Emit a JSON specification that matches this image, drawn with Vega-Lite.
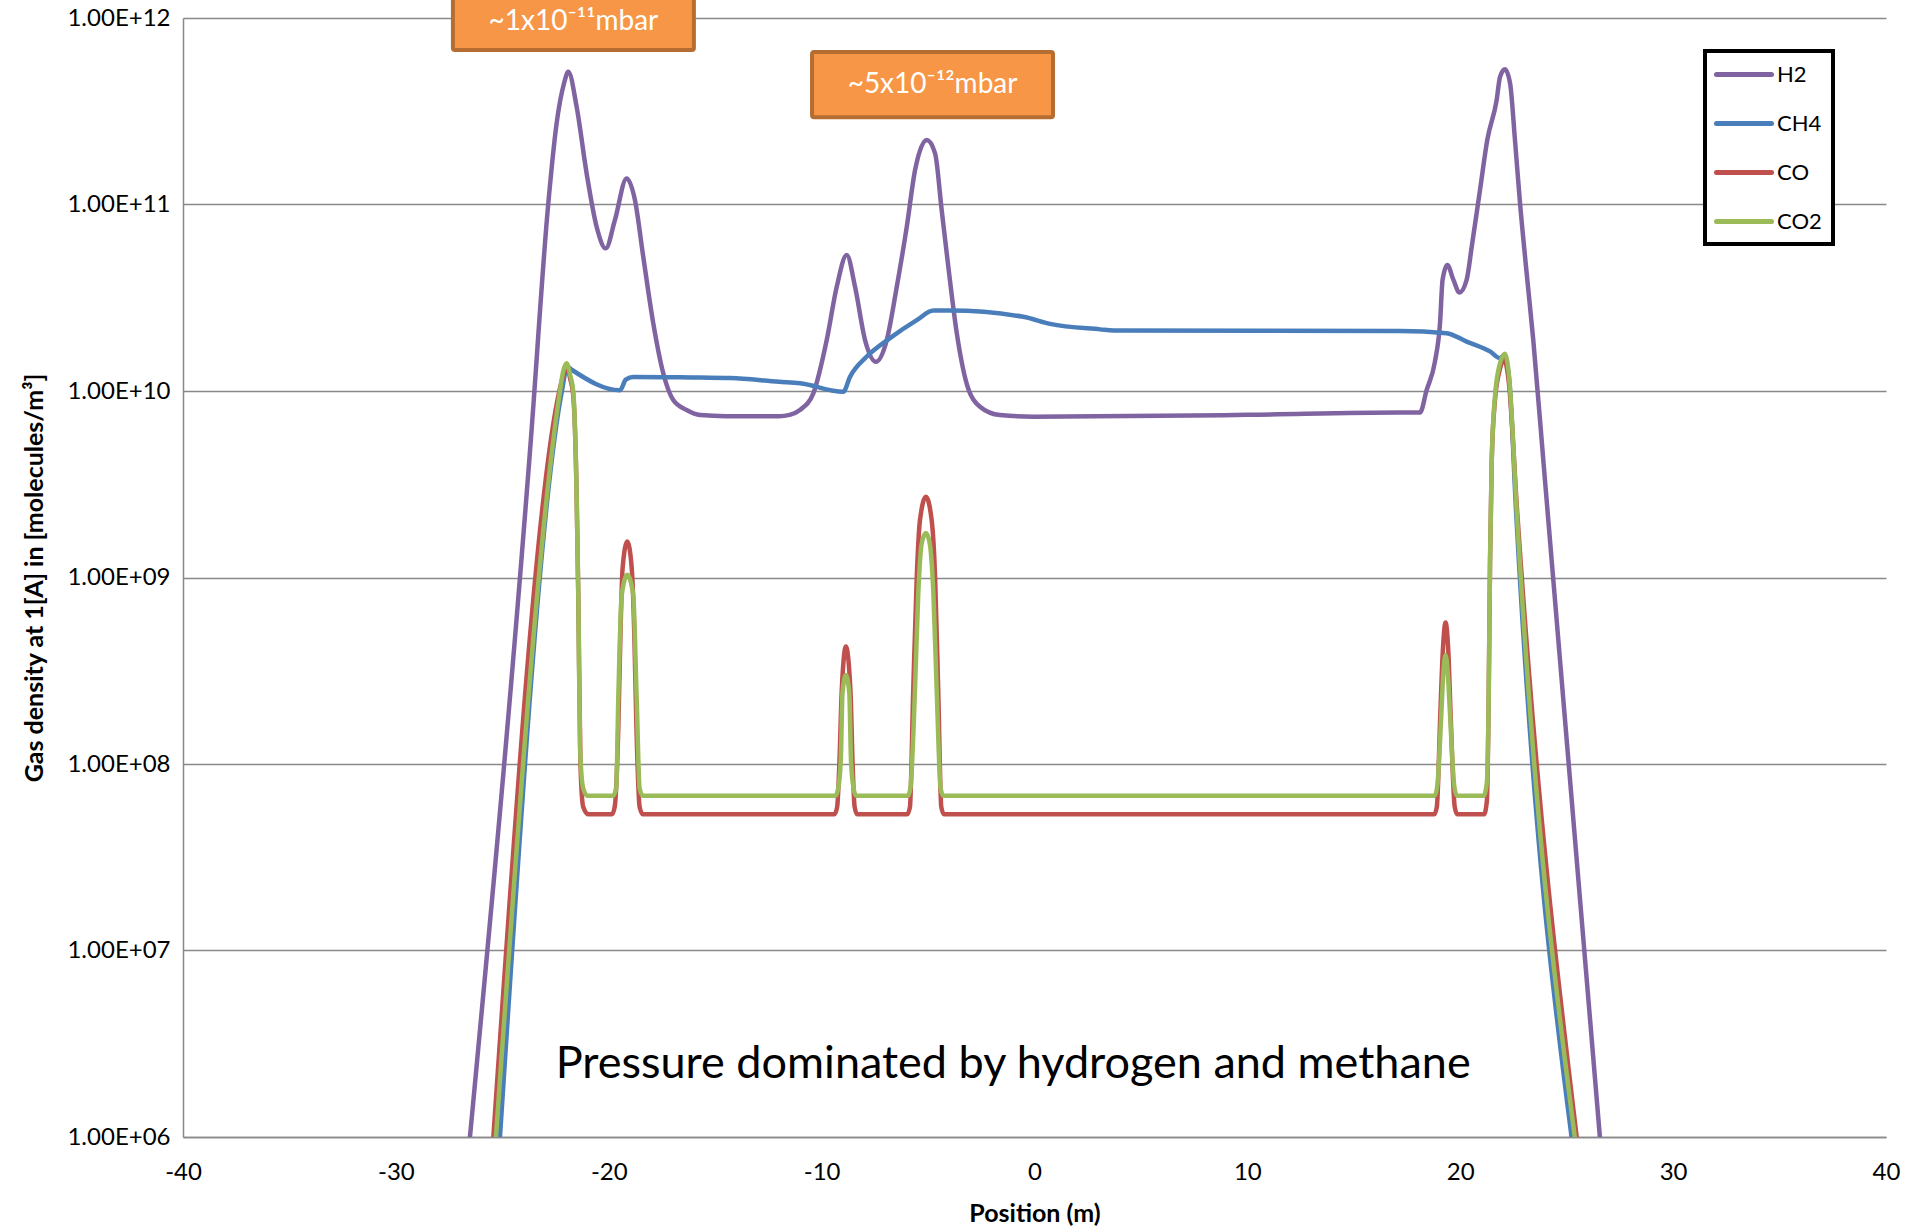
{
  "$schema": "https://vega.github.io/schema/vega-lite/v6.json",
  "width": 1703,
  "height": 1119,
  "autosize": {"type": "none"},
  "padding": {"left": 183, "top": 18, "right": 21, "bottom": 91},
  "background": "white",
  "config": {
    "view": {"stroke": null},
    "font": "Lato",
    "axis": {
      "labelFont": "Lato", "titleFont": "Lato", "labelColor": "black", "titleColor": "black",
      "labelFontSize": 24, "titleFontSize": 25, "titleFontWeight": "bold", "ticks": false, "labelFlush": false,
      "domainColor": "#898989", "gridColor": "#898989", "domainWidth": 1.5, "gridWidth": 1.5
    },
    "legend": {
      "orient": "none", "legendX": 1522, "legendY": 33, "padding": 11, "rowPadding": 25,
      "labelFont": "Lato", "labelFontSize": 22, "labelColor": "black", "labelOffset": 36,
      "symbolType": "M-1.2,0H4.3", "symbolSize": 400, "symbolStrokeWidth": 5,
      "strokeColor": "black", "fillColor": "white"
    }
  },
  "datasets": {
    "curves": [
      {"g":"H2","x":-26.52,"y":1e6},{"g":"H2","x":-23.66,"y":5.46e9},{"g":"H2","x":-22.84,"y":1.014e11},{"g":"H2","x":-22.45,"y":2.72e11},{"g":"H2","x":-22.1,"y":4.47e11},{"g":"H2","x":-21.9,"y":5.15e11},{"g":"H2","x":-21.51,"y":3.35e11},{"g":"H2","x":-21.04,"y":1.47e11},{"g":"H2","x":-20.57,"y":7.6e10},{"g":"H2","x":-20.14,"y":5.82e10},{"g":"H2","x":-19.71,"y":8.26e10},{"g":"H2","x":-19.16,"y":1.38e11},{"g":"H2","x":-18.77,"y":1.057e11},{"g":"H2","x":-18.38,"y":5.25e10},{"g":"H2","x":-17.91,"y":2.31e10},{"g":"H2","x":-17.44,"y":1.245e10},{"g":"H2","x":-16.97,"y":8.95e9},{"g":"H2","x":-16.34,"y":7.91e9},{"g":"H2","x":-15.71,"y":7.43e9},{"g":"H2","x":-14.5,"y":7.33e9},{"g":"H2","x":-12.0,"y":7.33e9},{"g":"H2","x":-11.5,"y":7.45e9},{"g":"H2","x":-11.02,"y":7.91e9},{"g":"H2","x":-10.39,"y":9.72e9},{"g":"H2","x":-9.76,"y":1.875e10},{"g":"H2","x":-9.29,"y":3.62e10},{"g":"H2","x":-8.82,"y":5.36e10},{"g":"H2","x":-8.43,"y":3.62e10},{"g":"H2","x":-7.96,"y":1.875e10},{"g":"H2","x":-7.45,"y":1.435e10},{"g":"H2","x":-6.94,"y":1.875e10},{"g":"H2","x":-6.47,"y":3.62e10},{"g":"H2","x":-6.0,"y":7.6e10},{"g":"H2","x":-5.61,"y":1.53e11},{"g":"H2","x":-5.06,"y":2.22e11},{"g":"H2","x":-4.67,"y":1.88e11},{"g":"H2","x":-4.36,"y":9.33e10},{"g":"H2","x":-4.05,"y":4.65e10},{"g":"H2","x":-3.65,"y":2.04e10},{"g":"H2","x":-3.19,"y":1.1e10},{"g":"H2","x":-2.56,"y":8.24e9},{"g":"H2","x":-1.62,"y":7.43e9},{"g":"H2","x":-0.06,"y":7.28e9},{"g":"H2","x":10,"y":7.45e9},{"g":"H2","x":17.17,"y":7.66e9},{"g":"H2","x":18.11,"y":7.66e9},{"g":"H2","x":18.42,"y":1.01e10},{"g":"H2","x":18.81,"y":1.435e10},{"g":"H2","x":19.05,"y":2.31e10},{"g":"H2","x":19.17,"y":3.94e10},{"g":"H2","x":19.39,"y":4.74e10},{"g":"H2","x":19.68,"y":3.94e10},{"g":"H2","x":19.96,"y":3.37e10},{"g":"H2","x":20.3,"y":3.94e10},{"g":"H2","x":20.54,"y":5.94e10},{"g":"H2","x":20.93,"y":1.2e11},{"g":"H2","x":21.27,"y":2.22e11},{"g":"H2","x":21.71,"y":3.63e11},{"g":"H2","x":21.87,"y":4.84e11},{"g":"H2","x":22.1,"y":5.31e11},{"g":"H2","x":22.34,"y":4.47e11},{"g":"H2","x":22.57,"y":2.22e11},{"g":"H2","x":22.81,"y":1.01e11},{"g":"H2","x":23.12,"y":4.28e10},{"g":"H2","x":23.43,"y":1.875e10},{"g":"H2","x":23.9,"y":4.27e9},{"g":"H2","x":26.56,"y":1e6},
      {"g":"CH4","x":-25.11,"y":1e6},{"g":"CH4","x":-22.2,"y":1e10},{"g":"CH4","x":-21.95,"y":1.35e10},{"g":"CH4","x":-21.74,"y":1.3e10},{"g":"CH4","x":-19.47,"y":1.01e10},{"g":"CH4","x":-19.2,"y":1.15e10},{"g":"CH4","x":-18.85,"y":1.19e10},{"g":"CH4","x":-15.71,"y":1.18e10},{"g":"CH4","x":-14.29,"y":1.175e10},{"g":"CH4","x":-12.0,"y":1.12e10},{"g":"CH4","x":-11.02,"y":1.1e10},{"g":"CH4","x":-8.98,"y":9.9e9},{"g":"CH4","x":-8.67,"y":1.19e10},{"g":"CH4","x":-7.88,"y":1.53e10},{"g":"CH4","x":-6.79,"y":1.92e10},{"g":"CH4","x":-5.53,"y":2.4e10},{"g":"CH4","x":-4.75,"y":2.7e10},{"g":"CH4","x":-3.97,"y":2.7e10},{"g":"CH4","x":-0.53,"y":2.5e10},{"g":"CH4","x":0.73,"y":2.29e10},{"g":"CH4","x":3.08,"y":2.14e10},{"g":"CH4","x":3.71,"y":2.11e10},{"g":"CH4","x":17.17,"y":2.1e10},{"g":"CH4","x":19.36,"y":2.04e10},{"g":"CH4","x":20.3,"y":1.84e10},{"g":"CH4","x":21.4,"y":1.63e10},{"g":"CH4","x":21.87,"y":1.5e10},{"g":"CH4","x":22.05,"y":1.55e10},{"g":"CH4","x":22.3,"y":1.15e10},{"g":"CH4","x":22.62,"y":2.29e9},{"g":"CH4","x":25.23,"y":1e6},
      {"g":"CO","x":-25.42,"y":1e6},{"g":"CO","x":-22.32,"y":1e10},{"g":"CO","x":-22.15,"y":1.2e10},{"g":"CO","x":-21.98,"y":1.35e10},{"g":"CO","x":-21.8,"y":1.15e10},{"g":"CO","x":-21.67,"y":9.55e9},{"g":"CO","x":-21.51,"y":2.82e9},{"g":"CO","x":-21.43,"y":7.94e8},{"g":"CO","x":-21.33,"y":1.0e8},{"g":"CO","x":-21.2,"y":5.89e7},{"g":"CO","x":-20.95,"y":5.37e7},{"g":"CO","x":-19.85,"y":5.37e7},{"g":"CO","x":-19.72,"y":5.89e7},{"g":"CO","x":-19.55,"y":1.58e8},{"g":"CO","x":-19.45,"y":5.0e8},{"g":"CO","x":-19.35,"y":1.12e9},{"g":"CO","x":-19.13,"y":1.56e9},{"g":"CO","x":-18.92,"y":1.12e9},{"g":"CO","x":-18.8,"y":5.0e8},{"g":"CO","x":-18.7,"y":1.58e8},{"g":"CO","x":-18.55,"y":5.89e7},{"g":"CO","x":-18.4,"y":5.37e7},{"g":"CO","x":-9.4,"y":5.37e7},{"g":"CO","x":-9.27,"y":5.89e7},{"g":"CO","x":-9.16,"y":1.05e8},{"g":"CO","x":-9.06,"y":2.4e8},{"g":"CO","x":-8.86,"y":4.27e8},{"g":"CO","x":-8.64,"y":2.4e8},{"g":"CO","x":-8.55,"y":1.05e8},{"g":"CO","x":-8.45,"y":5.89e7},{"g":"CO","x":-8.33,"y":5.37e7},{"g":"CO","x":-5.98,"y":5.37e7},{"g":"CO","x":-5.85,"y":5.89e7},{"g":"CO","x":-5.7,"y":2.4e8},{"g":"CO","x":-5.53,"y":1.01e9},{"g":"CO","x":-5.38,"y":2.03e9},{"g":"CO","x":-5.1,"y":2.71e9},{"g":"CO","x":-4.83,"y":2.03e9},{"g":"CO","x":-4.67,"y":1.01e9},{"g":"CO","x":-4.52,"y":2.4e8},{"g":"CO","x":-4.38,"y":5.89e7},{"g":"CO","x":-4.25,"y":5.37e7},{"g":"CO","x":18.78,"y":5.37e7},{"g":"CO","x":18.9,"y":5.89e7},{"g":"CO","x":19.07,"y":1.95e8},{"g":"CO","x":19.18,"y":4.0e8},{"g":"CO","x":19.31,"y":5.74e8},{"g":"CO","x":19.44,"y":4.0e8},{"g":"CO","x":19.54,"y":1.95e8},{"g":"CO","x":19.74,"y":5.89e7},{"g":"CO","x":19.86,"y":5.37e7},{"g":"CO","x":21.12,"y":5.37e7},{"g":"CO","x":21.25,"y":6.31e7},{"g":"CO","x":21.33,"y":1.95e8},{"g":"CO","x":21.4,"y":1.23e9},{"g":"CO","x":21.48,"y":4.27e9},{"g":"CO","x":21.63,"y":8.9e9},{"g":"CO","x":21.87,"y":1.32e10},{"g":"CO","x":22.05,"y":1.48e10},{"g":"CO","x":22.28,"y":1.12e10},{"g":"CO","x":22.67,"y":2.29e9},{"g":"CO","x":25.47,"y":1e6},
      {"g":"CO2","x":-25.3,"y":1e6},{"g":"CO2","x":-22.29,"y":1e10},{"g":"CO2","x":-22.15,"y":1.26e10},{"g":"CO2","x":-21.98,"y":1.41e10},{"g":"CO2","x":-21.8,"y":1.2e10},{"g":"CO2","x":-21.67,"y":1.0e10},{"g":"CO2","x":-21.51,"y":2.82e9},{"g":"CO2","x":-21.43,"y":7.94e8},{"g":"CO2","x":-21.35,"y":1.23e8},{"g":"CO2","x":-21.2,"y":7.41e7},{"g":"CO2","x":-21.0,"y":6.76e7},{"g":"CO2","x":-19.8,"y":6.76e7},{"g":"CO2","x":-19.65,"y":7.41e7},{"g":"CO2","x":-19.55,"y":2.29e8},{"g":"CO2","x":-19.39,"y":8.05e8},{"g":"CO2","x":-19.13,"y":1.035e9},{"g":"CO2","x":-18.85,"y":8.05e8},{"g":"CO2","x":-18.69,"y":2.29e8},{"g":"CO2","x":-18.55,"y":7.41e7},{"g":"CO2","x":-18.4,"y":6.76e7},{"g":"CO2","x":-9.35,"y":6.76e7},{"g":"CO2","x":-9.22,"y":7.41e7},{"g":"CO2","x":-9.1,"y":1.05e8},{"g":"CO2","x":-9.02,"y":2.4e8},{"g":"CO2","x":-8.86,"y":3.0e8},{"g":"CO2","x":-8.7,"y":2.4e8},{"g":"CO2","x":-8.62,"y":1.05e8},{"g":"CO2","x":-8.5,"y":7.41e7},{"g":"CO2","x":-8.38,"y":6.76e7},{"g":"CO2","x":-5.95,"y":6.76e7},{"g":"CO2","x":-5.83,"y":7.41e7},{"g":"CO2","x":-5.62,"y":2.4e8},{"g":"CO2","x":-5.46,"y":8.22e8},{"g":"CO2","x":-5.3,"y":1.52e9},{"g":"CO2","x":-5.1,"y":1.73e9},{"g":"CO2","x":-4.92,"y":1.52e9},{"g":"CO2","x":-4.75,"y":8.22e8},{"g":"CO2","x":-4.59,"y":2.4e8},{"g":"CO2","x":-4.41,"y":7.41e7},{"g":"CO2","x":-4.28,"y":6.76e7},{"g":"CO2","x":18.8,"y":6.76e7},{"g":"CO2","x":18.92,"y":7.6e7},{"g":"CO2","x":19.12,"y":1.95e8},{"g":"CO2","x":19.2,"y":3.0e8},{"g":"CO2","x":19.31,"y":3.84e8},{"g":"CO2","x":19.42,"y":3.0e8},{"g":"CO2","x":19.51,"y":1.95e8},{"g":"CO2","x":19.72,"y":7.6e7},{"g":"CO2","x":19.84,"y":6.76e7},{"g":"CO2","x":21.1,"y":6.76e7},{"g":"CO2","x":21.25,"y":7.94e7},{"g":"CO2","x":21.33,"y":2.0e8},{"g":"CO2","x":21.4,"y":1.26e9},{"g":"CO2","x":21.48,"y":4.27e9},{"g":"CO2","x":21.63,"y":9.33e9},{"g":"CO2","x":21.87,"y":1.41e10},{"g":"CO2","x":22.1,"y":1.585e10},{"g":"CO2","x":22.3,"y":1.175e10},{"g":"CO2","x":22.65,"y":2.29e9},{"g":"CO2","x":25.38,"y":1e6}
    ],
    "boxes": [
      {"x1": -27.32, "x2": -16.0, "y1": 1.5e12, "y2": 6.73e11, "tx": -21.66, "ty": 9.5e11, "label": "~1x10⁻¹¹mbar"},
      {"x1": -10.45, "x2": 0.87, "y1": 6.58e11, "y2": 2.94e11, "tx": -4.79, "ty": 4.38e11, "label": "~5x10⁻¹²mbar"}
    ],
    "note": [
      {"tx": -1.0, "ty": 2.46e6, "label": "Pressure dominated by hydrogen and methane"}
    ]
  },
  "layer": [
    {
      "data": {"name": "curves"},
      "mark": {"type": "line", "strokeWidth": 4.5, "interpolate": "monotone", "strokeCap": "round", "strokeJoin": "round", "clip": true},
      "encoding": {
        "x": {"field": "x", "type": "quantitative", "title": "Position (m)",
              "scale": {"domain": [-40, 40], "nice": false, "zero": false},
              "axis": {"values": [-40,-30,-20,-10,0,10,20,30,40], "grid": false, "labelPadding": 35, "labelBaseline": "middle",
                       "labelExpr": "datum.value < 0 ? '-' + abs(datum.value) : '' + datum.value",
                       "titleBaseline": "middle", "titleY": 76, "titleX": 851.5}},
        "y": {"field": "y", "type": "quantitative", "title": "Gas density at 1[A] in [molecules/m³]",
              "scale": {"type": "log", "domain": [1e6, 1e12], "nice": false},
              "axis": {"values": [1e6,1e7,1e8,1e9,1e10,1e11,1e12], "grid": true, "labelPadding": 13,
                       "labelExpr": "'1.00E+' + (datum.value < 1e10 ? '0' : '') + round(log(datum.value)/LN10)",
                       "titleX": -149, "titleY": 559.5, "titleBaseline": "middle", "titleAngle": 270}},
        "color": {"field": "g", "type": "nominal", "title": null,
                  "scale": {"domain": ["H2", "CH4", "CO", "CO2"], "range": ["#8064A2", "#4A7EBB", "#C0504D", "#9BBB59"]},
                  "legend": {"encode": {"legend": {"update": {"strokeWidth": {"value": 4}}}, "symbols": {"update": {"strokeCap": {"value": "round"}}}}}}
      }
    },
    {
      "data": {"name": "boxes"},
      "mark": {"type": "rect", "fill": "#F79646", "stroke": "#B66D31", "strokeWidth": 4, "cornerRadius": 2},
      "encoding": {
        "x": {"field": "x1", "type": "quantitative", "title": "Position (m)"},
        "x2": {"field": "x2"},
        "y": {"field": "y1", "type": "quantitative", "title": "Gas density at 1[A] in [molecules/m³]"},
        "y2": {"field": "y2"}
      }
    },
    {
      "data": {"name": "boxes"},
      "mark": {"type": "text", "color": "white", "fontSize": 28, "font": "Lato", "align": "center", "baseline": "middle"},
      "encoding": {
        "x": {"field": "tx", "type": "quantitative", "title": "Position (m)"},
        "y": {"field": "ty", "type": "quantitative", "title": "Gas density at 1[A] in [molecules/m³]"},
        "text": {"field": "label"}
      }
    },
    {
      "data": {"name": "note"},
      "mark": {"type": "text", "color": "black", "fontSize": 45, "font": "Lato", "align": "center", "baseline": "middle"},
      "encoding": {
        "x": {"field": "tx", "type": "quantitative", "title": "Position (m)"},
        "y": {"field": "ty", "type": "quantitative", "title": "Gas density at 1[A] in [molecules/m³]"},
        "text": {"field": "label"}
      }
    }
  ]
}
